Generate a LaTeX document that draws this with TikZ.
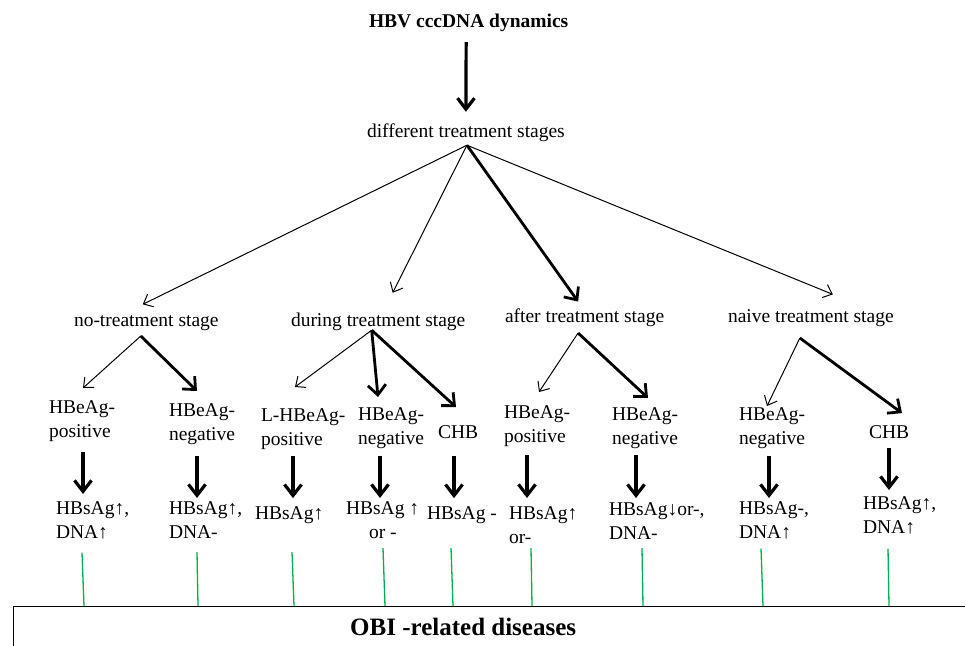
\documentclass[tikz,border=0pt]{standalone}
\usepackage{fontspec}
\setmainfont{Liberation Serif}
\usetikzlibrary{arrows.meta}
\definecolor{obigreen}{RGB}{0,176,80}
\begin{document}
\begin{tikzpicture}[x=1pt,y=-1pt,
  txt/.style={inner sep=0pt, outer sep=0pt, font=\fontsize{19.5}{24}\selectfont, align=left},
  thin arrow/.style={line width=1pt, -{Straight Barb[length=8pt,width=14pt]}},
  thick arrow/.style={line width=2.8pt, -{Straight Barb[length=10pt,width=18pt]}},
  down arrow/.style={line width=3.2pt, -{Straight Barb[length=11pt,width=17pt]}},
  grn/.style={draw=obigreen, line width=1.3pt},
]
\useasboundingbox (0,0) rectangle (965,645);

% top
\node[txt, font=\bfseries\fontsize{19.5}{24}\selectfont, anchor=base west] (title) at (369,27) {HBV cccDNA dynamics};
\node[txt, anchor=base west] (dts) at (367,137) {different treatment stages};

% level 2
\node[txt, anchor=base west] (nt) at (74,326) {no-treatment stage};
\node[txt, anchor=base west] (dt) at (291,326) {during treatment stage};
\node[txt, anchor=base west] (aft) at (505,322) {after treatment stage};
\node[txt, anchor=base west] (nv) at (728,322) {naive treatment stage};

% level 3
\node[txt, anchor=north west] (p1) at (49,401) {HBeAg-\\positive};
\node[txt, anchor=north west] (n1) at (169,404) {HBeAg-\\negative};
\node[txt, anchor=north west] (lp) at (261,409) {L-HBeAg-\\positive};
\node[txt, anchor=north west] (dn) at (358,408) {HBeAg-\\negative};
\node[txt, anchor=base west] (chb1) at (438,438) {CHB};
\node[txt, anchor=north west] (ap) at (504,406) {HBeAg-\\positive};
\node[txt, anchor=north west] (an) at (612,408) {HBeAg-\\negative};
\node[txt, anchor=north west] (nn) at (739,408) {HBeAg-\\negative};
\node[txt, anchor=base west] (chb2) at (869,438) {CHB};

% level 4
\node[txt, anchor=north west] (r1) at (56,502) {HBsAg↑,\\DNA↑};
\node[txt, anchor=north west] (r2) at (169,502) {HBsAg↑,\\DNA-};
\node[txt, anchor=base west] (r3) at (255,519) {HBsAg↑};
\node[txt, anchor=north west] (r4) at (346,502) {HBsAg ↑\\\hspace*{23pt}or -};
\node[txt, anchor=base west] (r5) at (427,519) {HBsAg -};
\node[txt, anchor=north west] (r6) at (509,507) {HBsAg↑\\or-};
\node[txt, anchor=north west] (r7) at (609,503) {HBsAg↓or-,\\DNA-};
\node[txt, anchor=north west] (r8) at (739,502) {HBsAg-,\\DNA↑};
\node[txt, anchor=north west] (r9) at (863,497) {HBsAg↑,\\DNA↑};

% bottom box
\node[draw, line width=1.3pt, anchor=north west, minimum width=1000pt, minimum height=80pt, inner sep=0pt] (box) at (13,606) {};
\node[inner sep=0pt, font=\bfseries\fontsize{25}{30}\selectfont, anchor=base west] (obi) at (350,635) {OBI -related diseases};

% top arrow
\draw[down arrow] ([xshift=-2.5pt,yshift=-11pt]title.south) -- ([yshift=11.5pt]dts.north);

% apex coordinates
\coordinate (apx) at ([xshift=1pt,yshift=-4pt]dts.south);
\coordinate (ant) at ([xshift=-5.5pt,yshift=-5.8pt]nt.south);
\coordinate (adt) at ([xshift=-6.5pt,yshift=0pt]dt.south);
\coordinate (aaf) at ([xshift=-6.5pt,yshift=-6.8pt]aft.south);
\coordinate (anv) at ([xshift=-11pt,yshift=-11.8pt]nv.south);

% level 1 -> level 2
\draw[thin arrow] (apx) -- ([xshift=-3.5pt,yshift=10.7pt]nt.north);
\draw[thin arrow] (apx) -- ([xshift=14.5pt,yshift=19.7pt]dt.north);
\draw[thick arrow] (apx) -- ([xshift=-6.5pt,yshift=6.7pt]aft.north);
\draw[thin arrow] (apx) -- ([xshift=22pt,yshift=14.7pt]nv.north);

% level 2 -> level 3
\draw[thin arrow] (ant) -- ([xshift=34pt,yshift=13pt]p1.north west);
\draw[thick arrow] (ant) -- ([xshift=28pt,yshift=13pt]n1.north west);
\draw[thin arrow] (adt) -- ([xshift=34pt,yshift=22pt]lp.north west);
\draw[thick arrow] (adt) -- ([xshift=20pt,yshift=11pt]dn.north west);
\draw[thick arrow] (adt) -- ([xshift=18pt,yshift=18pt]chb1.north west);
\draw[thin arrow] (aaf) -- ([xshift=35pt,yshift=14pt]ap.north west);
\draw[thick arrow] (aaf) -- ([xshift=36pt,yshift=10pt]an.north west);
\draw[thin arrow] (anv) -- ([xshift=28pt,yshift=2pt]nn.north west);
\draw[thick arrow] (anv) -- ([xshift=33pt,yshift=12pt]chb2.north west);

% level 3 -> level 4
\draw[down arrow] ([xshift=34pt,yshift=-9.9pt]p1.south west) -- ([xshift=27pt,yshift=8pt]r1.north west);
\draw[down arrow] ([xshift=28pt,yshift=-10.9pt]n1.south west) -- ([xshift=28pt,yshift=4pt]r2.north west);
\draw[down arrow] ([xshift=32pt,yshift=-5.9pt]lp.south west) -- ([xshift=38pt,yshift=8pt]r3.north west);
\draw[down arrow] ([xshift=22pt,yshift=-6.9pt]dn.south west) -- ([xshift=34pt,yshift=4pt]r4.north west);
\draw[down arrow] ([xshift=16pt,yshift=-18pt]chb1.south west) -- ([xshift=27pt,yshift=8pt]r5.north west);
\draw[down arrow] ([xshift=23pt,yshift=-7.9pt]ap.south west) -- ([xshift=18pt,yshift=9pt]r6.north west);
\draw[down arrow] ([xshift=24pt,yshift=-5.9pt]an.south west) -- ([xshift=27pt,yshift=5pt]r7.north west);
\draw[down arrow] ([xshift=30pt,yshift=-6.9pt]nn.south west) -- ([xshift=30pt,yshift=4pt]r8.north west);
\draw[down arrow] ([xshift=20pt,yshift=-10pt]chb2.south west) -- ([xshift=26pt,yshift=7pt]r9.north west);

% green connectors to the box
\draw[grn] ([xshift=26pt,yshift=-13.1pt]r1.south west) -- ([xshift=71pt]box.north west);
\draw[grn] ([xshift=28pt,yshift=-13.1pt]r2.south west) -- ([xshift=185pt]box.north west);
\draw[grn] ([xshift=37pt,yshift=-28.8pt]r3.south west) -- ([xshift=281pt]box.north west);
\draw[grn] ([xshift=37pt,yshift=-9.1pt]r4.south west) -- ([xshift=372pt]box.north west);
\draw[grn] ([xshift=24pt,yshift=-24.8pt]r5.south west) -- ([xshift=440pt]box.north west);
\draw[grn] ([xshift=22pt,yshift=-4.1pt]r6.south west) -- ([xshift=519pt]box.north west);
\draw[grn] ([xshift=33pt,yshift=-8.1pt]r7.south west) -- ([xshift=630pt]box.north west);
\draw[grn] ([xshift=22pt,yshift=-9.1pt]r8.south west) -- ([xshift=750pt]box.north west);
\draw[grn] ([xshift=25pt,yshift=-14.1pt]r9.south west) -- ([xshift=876pt]box.north west);
\end{tikzpicture}
\end{document}
